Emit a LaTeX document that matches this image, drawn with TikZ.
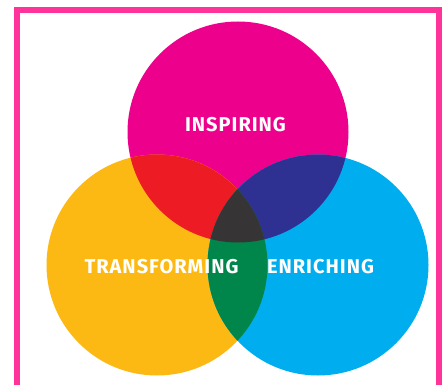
\documentclass[tikz,border=0pt]{standalone}
\usepackage{fontspec}
\setmainfont{Fira Sans}[LetterSpace=5]
\definecolor{framepink}{HTML}{FF3399}
\definecolor{cmag}{HTML}{EC008C}
\definecolor{cyel}{HTML}{FDB913}
\definecolor{ccya}{HTML}{00AEEF}
\definecolor{cred}{HTML}{ED1C24}
\definecolor{cblu}{HTML}{2E3192}
\definecolor{cgrn}{HTML}{00854A}
\definecolor{cdrk}{HTML}{363435}
\begin{document}
\begin{tikzpicture}[x=1pt,y=-1pt,
  blob/.style={circle,minimum size=221pt,inner sep=0pt,draw=none},
  lbl/.style={text=white,font=\fontsize{20}{22}\selectfont\bfseries,inner sep=0pt}]
\useasboundingbox (0,0) rectangle (444,385);
\fill[white] (0,0) rectangle (444,385);
% circles
\node[blob,fill=cmag] (ins) at (238,132) {};
\node[blob,fill=cyel] (tra) at (157,265) {};
\node[blob,fill=ccya] (enr) at (318,265) {};
% pairwise overlaps
\begin{scope}
  \clip (238,132) circle [radius=110.5pt];
  \fill[cred] (157,265) circle [radius=110.5pt];
  \fill[cblu] (318,265) circle [radius=110.5pt];
\end{scope}
\begin{scope}
  \clip (157,265) circle [radius=110.5pt];
  \fill[cgrn] (318,265) circle [radius=110.5pt];
  \clip (318,265) circle [radius=110.5pt];
  \fill[cdrk] (238,132) circle [radius=110.5pt];
\end{scope}
% labels
\node[lbl] (tins) at (235.5,125) {INSPIRING};
\node[lbl] (ttra) at (161.5,267) {TRANSFORMING};
\node[lbl] (tenr) at (320.5,267) {ENRICHING};
% frame
\draw[framepink,line width=6pt,line join=miter] (17,386) -- (17,10) -- (439,10) -- (439,386);
\end{tikzpicture}
\end{document}
